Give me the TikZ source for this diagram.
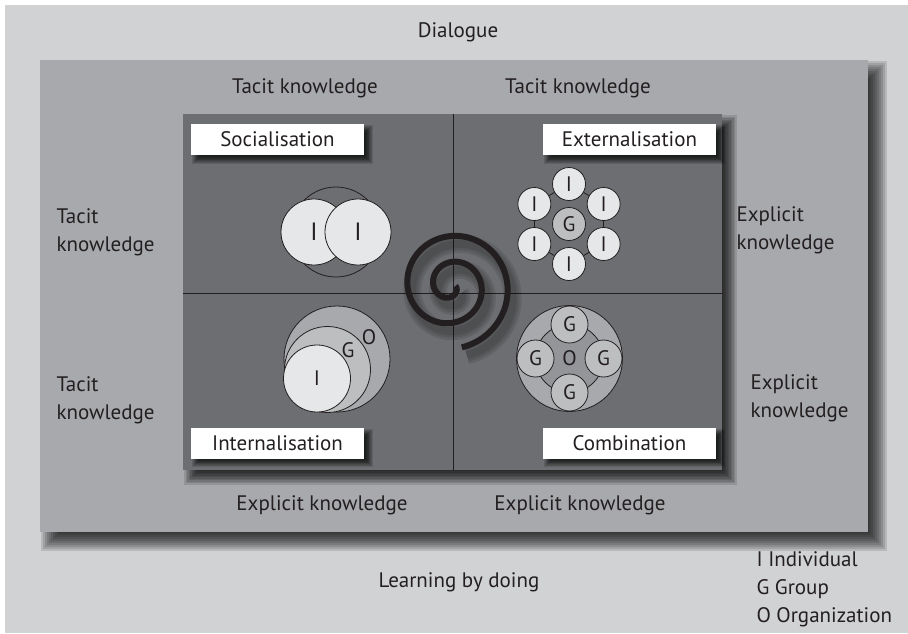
\documentclass[tikz,border=0pt]{standalone}
\usepackage{fontspec}
\setmainfont{PT Sans}
\usetikzlibrary{positioning}
\definecolor{bgLight}{HTML}{D1D2D4}
\definecolor{bgMid}{HTML}{A7A9AC}
\definecolor{bgDark}{HTML}{6D6E71}
\definecolor{ink}{HTML}{231F20}
\definecolor{fillI}{HTML}{E6E7E8}
\definecolor{fillG}{HTML}{BCBEC0}
\definecolor{fillO}{HTML}{A7A9AC}
\definecolor{fillRing}{HTML}{939598}
% soft shadow: x1 y1 x2 y2 shift blur
\newcommand{\blurshadow}[6]{%
  \foreach \k in {0,...,9}{
    \pgfmathsetmacro{\e}{-#6+\k*#6/4.5}
    \fill[black,opacity=0.12] ({#1+#5-\e},{#2+#5-\e}) rectangle ({#3+#5+\e},{#4+#5+\e});
  }}
\newcommand{\spiralpath}{plot[domain=0:800,samples=220,smooth] ({451+0.07226*(\x+62)*cos(\x)},{286+0.07226*(\x+62)*sin(\x)})}

\begin{document}
\begin{tikzpicture}[x=1pt,y=-1pt,
  every node/.style={font=\fontsize{21}{28}\selectfont, text=ink},
  stage/.style={fill=white, minimum width=173pt, minimum height=31pt, inner sep=0pt},
  side/.style={align=left, anchor=west},
  person/.style={circle, draw=ink, line width=0.8pt, fill=fillI, inner sep=0pt},
  group/.style={circle, draw=ink, line width=0.8pt, fill=fillG, inner sep=0pt},
  ring/.style={circle, draw=ink, line width=0.8pt, inner sep=0pt}]
\useasboundingbox (0,0) rectangle (908,633);
\fill[white] (0,0) rectangle (908,633);
\fill[bgLight] (5,5) rectangle (908,633);

% middle frame
\blurshadow{40}{60}{868}{532}{10}{9}
\fill[bgMid] (40,60) rectangle (868,532);

% inner frame and quadrants
\blurshadow{183}{114}{722}{470}{8}{7}
\fill[bgDark] (183,114) rectangle (722,470);
\draw[ink, line width=0.9pt] (453,114) -- (453,470);
\draw[ink, line width=0.9pt] (183,293) -- (722,293);

% stage boxes
\blurshadow{191}{124}{364}{155}{5}{4}
\blurshadow{543}{124}{716}{155}{5}{4}
\blurshadow{191}{428}{364}{458}{5}{4}
\blurshadow{543}{428}{716}{458}{5}{4}
\node[stage] (social) at (277.5,139.5) {Socialisation};
\node[stage] (extern) at (629.5,139.5) {Externalisation};
\node[stage] (intern) at (277.5,443) {Internalisation};
\node[stage] (combin) at (629.5,443) {Combination};

% spiral
\foreach \w in {18,13,8}
  \draw[black, opacity=0.1, line width=\w pt, shift={(5,8)}] \spiralpath;
\draw[ink, line width=6pt] \spiralpath;

% socialisation
\node[ring, minimum size=90pt] (sOuter) at (336,232) {};
\node[person, minimum size=66pt, font=\fontsize{25}{28}\selectfont] (sI1) at (314,232) {I};
\node[person, minimum size=66pt, font=\fontsize{25}{28}\selectfont] (sI2) at (358,232) {I};

% externalisation
\node[group, minimum size=33pt] (eG) at (569,224) {G};
\foreach \a [count=\i] in {-90,-30,30,90,150,210}
  \node[person, minimum size=33pt] (eI\i) at ([shift={(\a:40)}]eG) {I};
\foreach \i/\j in {1/2,2/3,3/4,4/5,5/6,6/1}
  \draw[ink, line width=0.8pt] (eI\i) -- (eI\j);

% internalisation
\node[ring, fill=fillO, minimum size=106pt] (iO) at (337,359) {};
\node[group, minimum size=86pt] (iG) at (327.5,369.5) {};
\node[person, minimum size=67pt] (iI) at (317,378.5) {I};
\node (iGlabel) at (348,350) {G};
\node (iOlabel) at (369,337) {O};

% combination
\node[ring, fill=fillO, minimum size=106pt] (cO) at (569.5,358.5) {};
\node[ring, fill=fillRing, minimum size=68pt] (cRing) at (cO) {O};
\foreach \a [count=\i] in {-90,0,90,180}
  \node[group, minimum size=37pt] (cG\i) at ([shift={(\a:34)}]cO) {G};

% outer texts
\node (dialogue) at (458,32) {Dialogue};
\node (tacitTL) at (305,88) {Tacit knowledge};
\node (tacitTR) at (578,88) {Tacit knowledge};
\node (explBL) at (322,505) {Explicit knowledge};
\node (explBR) at (580,505) {Explicit knowledge};
\node[side] (tacitL1) at (53,232) {Tacit\\knowledge};
\node[side] (tacitL2) at (53,400) {Tacit\\knowledge};
\node[side] (explR1) at (733,230) {Explicit\\knowledge};
\node[side] (explR2) at (747,398) {Explicit\\knowledge};
\node (doing) at (459,582) {Learning by doing};
\node[side] (legend) at (753,589) {I Individual\\G Group\\O Organization};
\end{tikzpicture}
\end{document}
